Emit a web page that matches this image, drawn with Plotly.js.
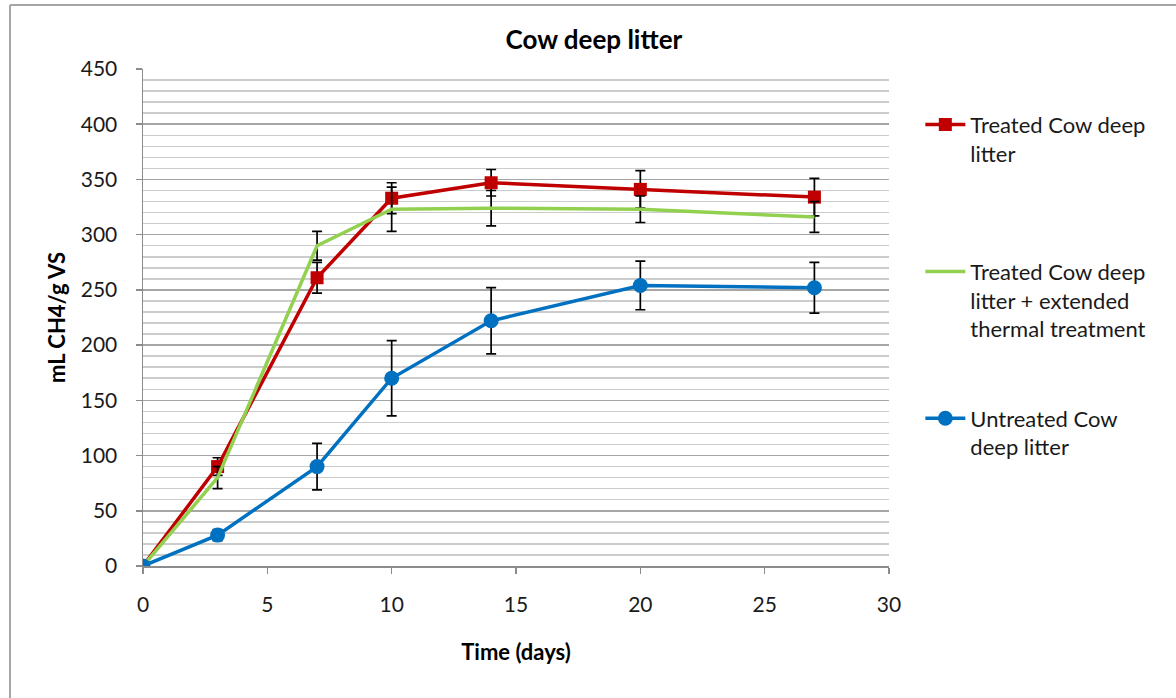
<!DOCTYPE html>
<html>
<head>
<meta charset="utf-8">
<script src="https://cdn.plot.ly/plotly-3.0.1.min.js"></script>
<style>
  html, body { margin: 0; padding: 0; background: #fff; }
  #chart { width: 1176px; height: 698px; }
</style>
</head>
<body>
<div id="chart"></div>
<script>
// Days of sampling
const days = [0, 3, 7, 10, 14, 20, 27];

// Treated Cow deep litter
const treatedVals = [0, 90, 261, 333, 347, 341, 334];
const treatedErr  = [0, 8, 14, 14, 12, 17, 17];

// Treated Cow deep litter + extended thermal treatment
const extendedVals = [0, 80, 290, 323, 324, 323, 316];
const extendedErr  = [0, 10, 13, 20, 16, 12, 14];

// Untreated Cow deep litter
const untreatedVals = [0, 28, 90, 170, 222, 254, 252];
const untreatedErr  = [0, 5, 21, 34, 30, 22, 23];

const seriesNames = [
  'Treated Cow deep<br>litter<br>&nbsp;',
  'Treated Cow deep<br>litter + extended<br>thermal treatment',
  'Untreated Cow<br>deep litter'
];

const FONT = 'Lato, "Open Sans", "Noto Sans", sans-serif';
const errStyle = { type: 'data', visible: true, color: '#000000', thickness: 1.7, width: 5 };

const traces = [
  {
    x: days, y: treatedVals, name: seriesNames[0], legendgroup: 'a',
    type: 'scatter', mode: 'lines+markers',
    line: { color: '#C00000', width: 3.5 },
    marker: { symbol: 'square', size: 13, color: '#C00000' },
    error_y: Object.assign({ array: treatedErr }, errStyle)
  },
  {
    x: days, y: extendedVals, name: seriesNames[1], legendgroup: 'b',
    type: 'scatter', mode: 'lines',
    line: { color: '#92D050', width: 3.5 },
    error_y: Object.assign({ array: extendedErr }, errStyle)
  },
  {
    x: days, y: untreatedVals, name: seriesNames[2], legendgroup: 'c',
    type: 'scatter', mode: 'lines+markers',
    line: { color: '#0070C0', width: 3.5 },
    marker: { symbol: 'circle', size: 15, color: '#0070C0' },
    error_y: Object.assign({ array: untreatedErr }, errStyle)
  }
];

const layout = {
  width: 1176, height: 698,
  margin: { l: 143, r: 287, t: 69, b: 132 },
  paper_bgcolor: '#ffffff', plot_bgcolor: '#ffffff',
  font: { family: FONT, size: 21, color: '#1a1a1a' },
  title: {
    text: '<b>Cow deep litter</b>',
    font: { family: FONT, size: 26, color: '#000000' },
    xref: 'container', x: 0.505, xanchor: 'center',
    yref: 'container', y: 0.943, yanchor: 'middle'
  },
  xaxis: {
    range: [0, 30], dtick: 5, tick0: 0,
    showgrid: false, zeroline: false,
    showline: true, linecolor: '#8c8c8c', linewidth: 1.5,
    ticks: 'outside', ticklen: 6, tickcolor: '#8c8c8c', tickwidth: 1.5,
    ticklabelstandoff: 13,
    tickfont: { family: FONT, size: 21, color: '#1a1a1a' },
    title: { text: '<b>Time (days)</b>', font: { family: FONT, size: 22, color: '#000000' }, standoff: 30 }
  },
  yaxis: {
    range: [0, 450], dtick: 50, tick0: 0,
    showgrid: true, gridcolor: '#a6a6a6', gridwidth: 1.5,
    zeroline: false,
    showline: true, linecolor: '#8c8c8c', linewidth: 1.5,
    ticks: 'outside', ticklen: 6, tickcolor: '#8c8c8c', tickwidth: 1.5,
    ticklabelstandoff: 14,
    tickfont: { family: FONT, size: 21, color: '#1a1a1a' },
    minor: { dtick: 10, showgrid: true, gridcolor: '#cccccc', gridwidth: 1.5, ticks: '' },
    title: { text: '<b>mL CH4/g VS</b>', font: { family: FONT, size: 22, color: '#000000' }, standoff: 9 }
  },
  showlegend: true,
  legend: {
    x: 1.042, xanchor: 'left', y: 0.93, yanchor: 'top',
    traceorder: 'grouped', tracegroupgap: 58,
    valign: 'top', itemwidth: 40,
    font: { family: FONT, size: 22, color: '#1a1a1a' },
    bgcolor: 'rgba(0,0,0,0)'
  },
  shapes: [
    { type: 'line', xref: 'paper', yref: 'paper', x0: -0.1783, x1: -0.1783, y0: 1.129, y1: -0.3, line: { color: '#a6a6a6', width: 2 } },
    { type: 'line', xref: 'paper', yref: 'paper', x0: -0.1783, x1: 1.5, y0: 1.129, y1: 1.129, line: { color: '#a6a6a6', width: 2 } }
  ]
};

Plotly.newPlot('chart', traces, layout, { displayModeBar: false, staticPlot: true });
</script>
</body>
</html>
